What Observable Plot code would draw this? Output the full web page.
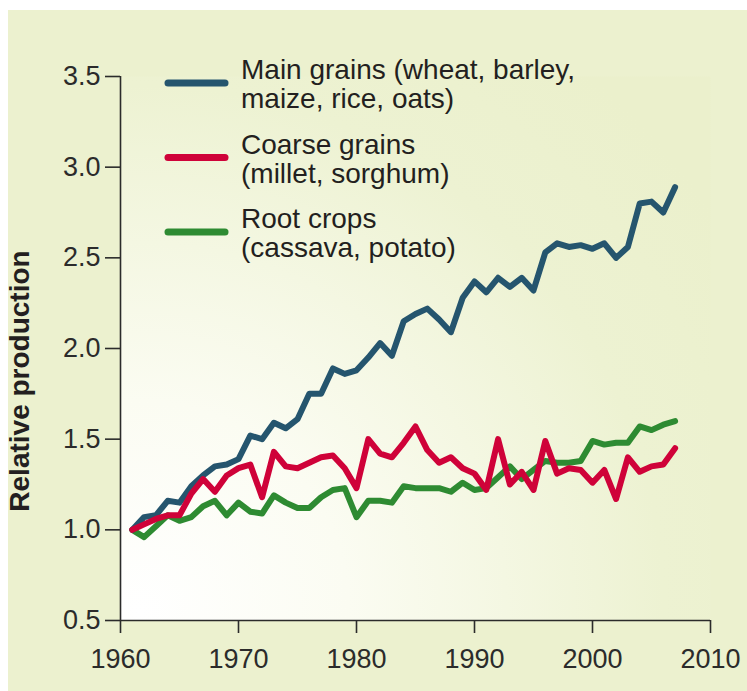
<!DOCTYPE html>
<html>
<head>
<meta charset="utf-8">
<script src="https://cdn.jsdelivr.net/npm/d3@7"></script>
<script src="https://cdn.jsdelivr.net/npm/@observablehq/plot@0.6"></script>
<style>
  html, body { margin: 0; padding: 0; background: #ffffff; }
  #wrap { position: relative; width: 747px; height: 691px; overflow: hidden; }
  #chart { position: absolute; left: 8px; top: 10px; }
  #chart svg { display: block; background: #ecf1cf; }
</style>
</head>
<body>
<div id="wrap"><div id="chart"></div></div>
<script>
const years = [1961,1962,1963,1964,1965,1966,1967,1968,1969,1970,
  1971,1972,1973,1974,1975,1976,1977,1978,1979,1980,
  1981,1982,1983,1984,1985,1986,1987,1988,1989,1990,
  1991,1992,1993,1994,1995,1996,1997,1998,1999,2000,
  2001,2002,2003,2004,2005,2006,2007];

const mainGrains = [1.00,1.07,1.08,1.16,1.15,1.24,1.30,1.35,1.36,1.39,
  1.52,1.50,1.59,1.56,1.61,1.75,1.75,1.89,1.86,1.88,
  1.95,2.03,1.96,2.15,2.19,2.22,2.16,2.09,2.28,2.37,
  2.31,2.39,2.34,2.39,2.32,2.53,2.58,2.56,2.57,2.55,
  2.58,2.50,2.56,2.80,2.81,2.75,2.89];

const coarseGrains = [1.00,1.03,1.06,1.08,1.08,1.20,1.28,1.21,1.30,1.34,
  1.36,1.18,1.43,1.35,1.34,1.37,1.40,1.41,1.34,1.23,
  1.50,1.42,1.40,1.48,1.57,1.44,1.37,1.40,1.34,1.31,
  1.22,1.50,1.25,1.32,1.22,1.49,1.31,1.34,1.33,1.26,
  1.33,1.17,1.40,1.32,1.35,1.36,1.45];

const rootCrops = [1.00,0.96,1.02,1.08,1.05,1.07,1.13,1.16,1.08,1.15,
  1.10,1.09,1.19,1.15,1.12,1.12,1.18,1.22,1.23,1.07,
  1.16,1.16,1.15,1.24,1.23,1.23,1.23,1.21,1.26,1.22,
  1.23,1.29,1.35,1.28,1.33,1.38,1.37,1.37,1.38,1.49,
  1.47,1.48,1.48,1.57,1.55,1.58,1.60];

const seriesKeys = ["main", "coarse", "root"];
const seriesLabels = [
  ["Main grains (wheat, barley,", "maize, rice, oats)"],
  ["Coarse grains", "(millet, sorghum)"],
  ["Root crops", "(cassava, potato)"]
];
const seriesColors = ["#25556e", "#cf0239", "#2e8b32"];

const xTicks = [1960, 1970, 1980, 1990, 2000, 2010];
const yTicks = [0.5, 1.0, 1.5, 2.0, 2.5, 3.0, 3.5];
const xDomain = [1960, 2010];
const yDomain = [0.5, 3.5];
const yLabel = "Relative production";

const seriesValues = [mainGrains, coarseGrains, rootCrops];
const rows = seriesKeys.map((key, s) =>
  years.map((year, i) => ({year, value: seriesValues[s][i], series: key})));

const FONT = "'Liberation Sans', Arial, Helvetica, sans-serif";
const INK = "#231f20";

const lineMark = (s) => Plot.line(rows[s], {
  x: "year", y: "value", stroke: seriesColors[s],
  strokeWidth: 6, strokeLinejoin: "round", strokeLinecap: "round"
});

const chart = Plot.plot({
  width: 739,
  height: 681,
  marginLeft: 112,
  marginRight: 37,
  marginTop: 66,
  marginBottom: 71,
  x: {domain: xDomain},
  y: {domain: yDomain},
  style: {background: "#ecf1cf", fontFamily: FONT, color: INK, overflow: "visible"},
  marks: [
    Plot.frame({fill: "url(#bgGrad)", stroke: null}),
    Plot.ruleY([yDomain[0]], {x1: xDomain[0], x2: xDomain[1], stroke: "#2b2b2b", strokeWidth: 1.6}),
    Plot.ruleX([xDomain[0]], {y1: yDomain[0], y2: yDomain[1], stroke: "#2b2b2b", strokeWidth: 1.6}),
    Plot.axisX({ticks: xTicks, tickFormat: d => String(d), tickSize: 13, tickPadding: 15,
      label: null, fontSize: 27, color: "#2b2b2b", strokeWidth: 1.6}),
    Plot.axisY({ticks: yTicks, tickFormat: d => d.toFixed(1), tickSize: 15, tickPadding: 5,
      label: null, fontSize: 27, color: "#2b2b2b", strokeWidth: 1.6}),
    lineMark(2),
    lineMark(0),
    lineMark(1)
  ]
});

document.getElementById("chart").appendChild(chart);

// gradient background for the plotting area
const svg = d3.select(chart);
const defs = svg.insert("defs", ":first-child");
const grad = defs.append("radialGradient")
  .attr("id", "bgGrad")
  .attr("gradientUnits", "userSpaceOnUse")
  .attr("cx", 130).attr("cy", 600).attr("r", 700);
grad.append("stop").attr("offset", "0").attr("stop-color", "#ffffff");
grad.append("stop").attr("offset", "0.3").attr("stop-color", "#fbfcf2");
grad.append("stop").attr("offset", "0.75").attr("stop-color", "#edf2d2");
grad.append("stop").attr("offset", "1").attr("stop-color", "#ebf0cc");

// y-axis title
svg.append("text")
  .attr("transform", "translate(21,371) rotate(-90)")
  .attr("text-anchor", "middle")
  .attr("font-family", FONT).attr("font-size", 28).attr("font-weight", "bold")
  .attr("fill", INK)
  .text(yLabel);

// legend (layout in svg pixel space)
const legend = svg.append("g").attr("font-family", FONT).attr("font-size", 28)
  .attr("fill", INK).attr("text-anchor", "start");
seriesKeys.forEach((key, s) => {
  const y0 = 73 + s * 74.5;
  legend.append("line")
    .attr("x1", 160).attr("x2", 217).attr("y1", y0).attr("y2", y0)
    .attr("stroke", seriesColors[s]).attr("stroke-width", 7).attr("stroke-linecap", "round");
  seriesLabels[s].forEach((t, k) => {
    legend.append("text").attr("text-anchor", "start")
      .attr("x", 233).attr("y", y0 - 4 + k * 29).text(t);
  });
});
</script>
</body>
</html>
